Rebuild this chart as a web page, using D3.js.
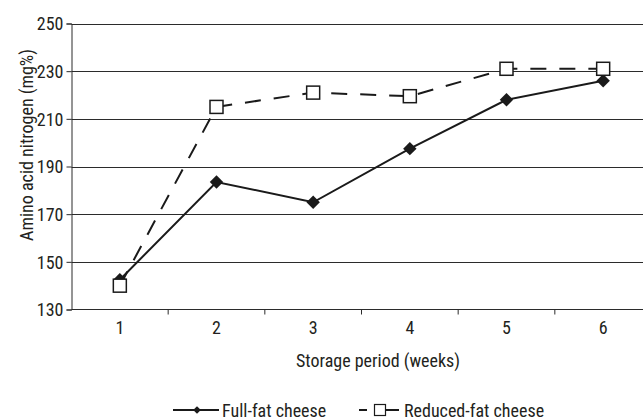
<!DOCTYPE html>
<html>
<head>
<meta charset="utf-8">
<script src="https://cdn.jsdelivr.net/npm/d3@7"></script>
<style>
  html, body { margin: 0; padding: 0; background: #fff; }
  svg { display: block; }
  text { font-family: "Liberation Sans Narrow", "Roboto Condensed", "DejaVu Sans Condensed", sans-serif; fill: #231f20; }
</style>
</head>
<body>
<div id="chart"></div>
<script>
var weeks = [1, 2, 3, 4, 5, 6];
var fullFat = [142.5, 183.5, 175, 197.5, 218, 226];
var reducedFat = [140, 215, 221, 219.5, 231, 231];
var yTicks = [130, 150, 170, 190, 210, 230, 250];

(function () {
  var W = 643, H = 419;
  // plot box; the right end runs past the window edge like the reference
  var pLeft = 71.5, pTop = 23.5, pBottom = 309.5, pRight = 651.5;

  var svg = d3.select("#chart").append("svg")
    .attr("width", W).attr("height", H);

  var x = d3.scalePoint().domain(weeks).range([pLeft, pRight]).padding(0.5);
  var y = d3.scaleLinear().domain([130, 250]).range([pBottom, pTop]);

  // gridlines
  svg.append("g").selectAll("line").data(yTicks.slice(1)).join("line")
    .attr("x1", pLeft).attr("x2", W)
    .attr("y1", function (d) { return Math.round(y(d)) + 0.5; })
    .attr("y2", function (d) { return Math.round(y(d)) + 0.5; })
    .attr("stroke", "#2b2b2b").attr("stroke-width", 1);

  // y axis
  var yAxis = svg.append("g").attr("transform", "translate(" + pLeft + ",0)")
    .call(d3.axisLeft(y).tickValues(yTicks).tickSize(5).tickPadding(3));
  yAxis.select(".domain").attr("stroke", "#2b2b2b");
  yAxis.selectAll(".tick line").attr("stroke", "#2b2b2b");
  yAxis.selectAll("text").attr("font-size", "18px")
    .attr("font-family", null).attr("fill", null).attr("dy", "0.36em");

  // x axis: ticks sit between categories
  var step = x.step();
  var bounds = d3.range(weeks.length + 1).map(function (i) { return pLeft + i * step; });
  svg.append("line").attr("x1", pLeft).attr("x2", W)
    .attr("y1", pBottom).attr("y2", pBottom).attr("stroke", "#2b2b2b");
  svg.append("g").selectAll("line").data(bounds.slice(1)).join("line")
    .attr("x1", function (d) { return d; }).attr("x2", function (d) { return d; })
    .attr("y1", pBottom).attr("y2", pBottom + 5).attr("stroke", "#2b2b2b");
  svg.append("g").selectAll("text").data(weeks).join("text")
    .attr("x", function (d) { return x(d); }).attr("y", pBottom + 24)
    .attr("text-anchor", "middle").attr("font-size", "18px")
    .text(function (d) { return d; });

  // axis titles
  svg.append("text").attr("x", 378).attr("y", 367)
    .attr("text-anchor", "middle").attr("font-size", "18px")
    .text("Storage period (weeks)");
  svg.append("text")
    .attr("transform", "translate(33,145) rotate(-90)")
    .attr("text-anchor", "middle").attr("font-size", "18px")
    .text("Amino acid nitrogen (mg%)");

  var line = d3.line()
    .x(function (d, i) { return x(weeks[i]); })
    .y(function (d) { return y(d); });

  // full-fat series (solid, filled diamonds)
  svg.append("path").datum(fullFat).attr("d", line)
    .attr("fill", "none").attr("stroke", "#1a1a1a").attr("stroke-width", 2);
  var diamond = d3.symbol().type(d3.symbolSquare).size(90);
  svg.append("g").selectAll("path").data(fullFat).join("path")
    .attr("d", diamond)
    .attr("transform", function (d, i) {
      return "translate(" + x(weeks[i]) + "," + y(d) + ") rotate(45)";
    })
    .attr("fill", "#1a1a1a");

  // reduced-fat series (dashed, hollow squares)
  svg.append("path").datum(reducedFat).attr("d", line)
    .attr("fill", "none").attr("stroke", "#1a1a1a").attr("stroke-width", 2)
    .attr("stroke-dasharray", "16,13");
  svg.append("g").selectAll("rect").data(reducedFat).join("rect")
    .attr("x", function (d, i) { return x(weeks[i]) - 6.5; })
    .attr("y", function (d) { return y(d) - 6.5; })
    .attr("width", 13).attr("height", 13)
    .attr("fill", "#fff").attr("stroke", "#1a1a1a").attr("stroke-width", 1.5);

  // legend
  var ly = 410;
  svg.append("line").attr("x1", 173).attr("x2", 219).attr("y1", ly).attr("y2", ly)
    .attr("stroke", "#1a1a1a").attr("stroke-width", 2);
  svg.append("path").attr("d", d3.symbol().type(d3.symbolSquare).size(30))
    .attr("transform", "translate(197," + ly + ") rotate(45)").attr("fill", "#1a1a1a");
  svg.append("text").attr("x", 222).attr("y", ly + 6.5).attr("font-size", "18px")
    .text("Full-fat cheese");
  svg.append("line").attr("x1", 359).attr("x2", 367).attr("y1", ly).attr("y2", ly)
    .attr("stroke", "#1a1a1a").attr("stroke-width", 2);
  svg.append("line").attr("x1", 385).attr("x2", 399).attr("y1", ly).attr("y2", ly)
    .attr("stroke", "#1a1a1a").attr("stroke-width", 2);
  svg.append("rect").attr("x", 374.5).attr("y", ly - 5.5).attr("width", 11).attr("height", 11)
    .attr("fill", "#fff").attr("stroke", "#1a1a1a").attr("stroke-width", 1.2);
  svg.append("text").attr("x", 404).attr("y", ly + 6.5).attr("font-size", "18px")
    .text("Reduced-fat cheese");
})();
</script>
</body>
</html>
